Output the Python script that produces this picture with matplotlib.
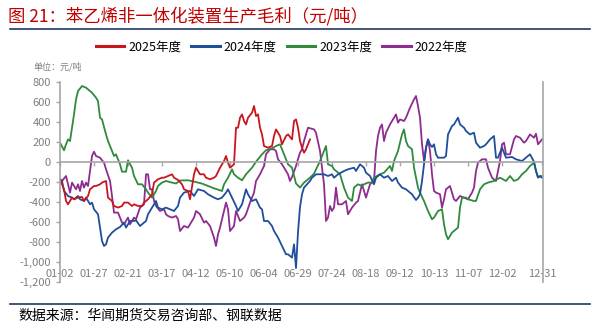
import numpy as np
import matplotlib
matplotlib.use("Agg")
import matplotlib.pyplot as plt
from matplotlib.lines import Line2D
from matplotlib.ticker import FuncFormatter

plt.rcParams['font.family'] = ['Noto Sans CJK SC', 'DejaVu Sans']

# x = trading-day index within the year, y = margin (元/吨)
x_2025 = [0, 2, 3, 4, 6, 7, 9, 11, 12, 14, 15, 17, 18, 20, 21, 23, 24, 26, 27, 29, 31, 32, 34, 36, 37,
          39, 41, 42, 44, 46, 47, 49, 51, 52, 54, 56, 57, 59, 61, 62, 64, 65, 67, 68, 70, 72, 73, 75,
          77, 78, 80, 82, 83, 84, 85, 87, 88, 89, 90, 91, 92, 93, 94, 96, 97, 98, 99, 100, 101, 102,
          104, 106, 107, 108, 110, 111, 113, 114, 116, 117, 118, 119, 120, 121, 122, 123, 124, 125]
y_2025 = [-173, -273, -390, -423, -356, -373, -356, -350, -390, -340, -273, -240, -240, -223, -206,
          -190, -356, -390, -440, -456, -440, -406, -406, -440, -423, -440, -440, -406, -373, -323,
          -206, -173, -157, -157, -140, -123, -157, -180, -223, -273, -290, -373, -123, -57, -123,
          -123, -157, -173, -157, -140, -57, 10, 60, -7, -57, -23, 343, 343, 443, 476, 410, 376, 443,
          493, 560, 460, 476, 343, 276, 160, 143, 160, 260, 326, 260, 177, 260, 276, 226, 410, 426,
          343, 210, 143, 93, 127, 177, 226]

x_2024 = [0, 1, 2, 4, 6, 7, 9, 10, 12, 13, 15, 16, 17, 19, 20, 21, 22, 23, 24, 26, 28, 30, 32, 33, 35,
          37, 38, 40, 41, 43, 44, 46, 48, 49, 51, 53, 55, 57, 59, 60, 62, 65, 67, 69, 72, 74, 77, 79,
          81, 83, 84, 86, 88, 89, 91, 93, 94, 96, 98, 100, 101, 102, 104, 106, 107, 109, 111, 113, 114,
          116, 117, 118, 119, 120, 121, 122, 125, 126, 128, 130, 132, 134, 136, 137, 139, 142, 144,
          147, 148, 150, 152, 153, 155, 157, 158, 160, 162, 164, 166, 168, 169, 171, 173, 176, 178,
          179, 180, 181, 182, 183, 184, 185, 186, 187, 188, 189, 192, 193, 194, 196, 197, 198, 199,
          200, 202, 203, 205, 207, 208, 210, 212, 213, 215, 217, 218, 219, 221, 222, 223, 226, 228,
          231, 233, 235, 237, 238, 239, 240, 241]
y_2024 = [-173, -190, -290, -340, -356, -373, -340, -373, -390, -356, -423, -406, -473, -523, -656,
          -790, -840, -823, -756, -706, -673, -650, -606, -656, -590, -590, -583, -640, -623, -590,
          -523, -456, -390, -456, -473, -456, -473, -490, -440, -356, -306, -290, -340, -273, -290,
          -323, -356, -373, -356, -306, -273, -356, -440, -490, -423, -273, -323, -390, -373, -456,
          -473, -590, -590, -640, -690, -756, -840, -923, -923, -956, -823, -1060, -700, -450, -323,
          -256, -190, -157, -123, -123, -123, -140, -123, -157, -123, -90, -73, -57, -90, -23, -57,
          -107, -140, -223, -157, -123, -157, -140, -190, -157, -206, -256, -273, -323, -380, -356,
          -323, -190, -23, 143, 226, 177, 150, 177, 77, 43, 43, 60, 276, 360, 376, 410, 443, 376,
          343, 310, 276, 293, 193, 143, 160, 177, 226, 260, 43, 43, 143, 93, 43, 50, 27, 10, 43, 77,
          3, -90, -157, -140, -157]

x_2023 = [0, 2, 3, 4, 5, 7, 8, 9, 11, 13, 16, 18, 19, 20, 21, 23, 24, 26, 27, 28, 30, 31, 33, 34, 36,
          37, 39, 41, 43, 44, 46, 48, 49, 51, 53, 56, 58, 60, 64, 67, 71, 74, 77, 81, 82, 84, 86, 87,
          89, 91, 93, 96, 98, 101, 103, 106, 108, 110, 112, 114, 116, 118, 120, 122, 125, 127, 130,
          132, 133, 134, 136, 137, 139, 140, 142, 144, 146, 147, 149, 151, 152, 154, 156, 157, 160,
          162, 165, 166, 167, 169, 171, 172, 173, 174, 176, 177, 179, 180, 182, 184, 186, 187, 189,
          191, 192, 193, 194, 196, 197, 199, 200, 201, 203, 204, 207, 208, 210, 212, 214, 217, 220,
          223, 225, 227, 229, 231, 233, 235, 237, 238, 239, 241]
y_2023 = [193, 117, 177, 226, 210, 476, 626, 709, 760, 743, 693, 643, 610, 443, 426, 276, 210, 110,
          60, 77, -23, -97, -97, 17, -57, -140, -223, -223, -273, -306, -356, -290, -240, -206, -190,
          -206, -215, -185, -183, -196, -216, -240, -263, -290, -223, -157, -73, -123, -157, -183,
          -123, -57, 3, 77, 117, 137, 160, 177, 77, -23, -57, -215, -256, -206, -157, -117, 10, 110,
          160, -23, -40, -73, -107, -123, -256, -356, -390, -256, -223, -240, -223, -206, -206, -157,
          -123, -107, -40, -90, 10, 110, 276, 326, 210, 160, 127, -57, -256, -306, -390, -490, -573,
          -556, -490, -473, -623, -723, -773, -706, -690, -656, -456, -356, -356, -373, -390, -390,
          -273, -223, -206, -190, -157, -190, -140, -190, -173, -123, -90, -40, -7, -90, -150, -140]

x_2022 = [0, 1, 3, 4, 5, 6, 7, 8, 9, 10, 11, 12, 13, 14, 15, 16, 17, 18, 20, 22, 23, 25, 26, 27, 29,
          31, 32, 34, 35, 37, 38, 40, 42, 43, 44, 45, 46, 47, 48, 50, 52, 53, 54, 56, 58, 59, 60, 62,
          64, 67, 68, 70, 72, 73, 75, 77, 78, 79, 80, 83, 84, 85, 87, 88, 90, 92, 93, 95, 97, 98, 100,
          102, 103, 105, 107, 108, 109, 111, 113, 114, 115, 116, 118, 119, 120, 121, 122, 124, 127,
          128, 130, 132, 133, 134, 135, 136, 137, 138, 139, 141, 143, 144, 146, 148, 149, 151, 152,
          153, 155, 157, 158, 159, 160, 161, 162, 163, 165, 167, 168, 169, 170, 172, 173, 175, 177,
          178, 179, 180, 181, 182, 183, 184, 185, 186, 187, 188, 190, 191, 192, 193, 195, 196, 197,
          198, 200, 202, 204, 206, 207, 208, 209, 211, 213, 214, 216, 218, 219, 220, 221, 222, 223,
          225, 227, 228, 230, 232, 233, 235, 237, 238, 239, 241]
y_2022 = [-173, -190, -140, -223, -306, -206, -240, -273, -223, -290, -190, -256, -206, -240, -90, 60,
          103, 60, 43, -7, -73, -190, -340, -506, -506, -606, -623, -556, -623, -556, -573, -456,
          -423, -123, -123, -273, -273, -390, -440, -490, -473, -523, -540, -556, -540, -573, -690,
          -640, -656, -556, -490, -523, -606, -590, -640, -756, -840, -723, -656, -406, -473, -690,
          -640, -490, -590, -556, -523, -406, -306, -190, -123, -40, 77, 127, 127, 110, 27, -23, -90,
          -123, -190, -150, -40, 30, 93, 127, 210, 343, 326, 293, 110, -223, -590, -556, -440, -490,
          -456, -256, -423, -423, -390, -523, -456, -406, -390, -223, -290, -356, -223, -190, 110,
          260, 343, 376, 210, 293, 376, 443, 476, 393, 426, 410, 443, 543, 626, 660, 560, 443, 177,
          10, 143, 226, 110, -123, -290, -306, -323, -456, -373, -273, -240, -306, -373, -390, -340,
          -356, -373, -306, -256, -90, -7, 27, 27, -57, -157, -190, -90, 10, 177, 193, 77, 77, 226,
          260, 243, 193, 210, 276, 243, 283, 177, 226]

series = [
    ("2025年度", x_2025, y_2025, "#C8161D"),
    ("2024年度", x_2024, y_2024, "#1F4E9A"),
    ("2023年度", x_2023, y_2023, "#2F8A3C"),
    ("2022年度", x_2022, y_2022, "#8E2C90"),
]

tick_pos = [0, 17, 34, 51, 68, 85, 102, 119, 136, 153, 170, 187, 204, 221, 241]
tick_lab = ["01-02", "01-27", "02-21", "03-17", "04-12", "05-10", "06-04", "06-29",
            "07-24", "08-18", "09-12", "10-13", "11-07", "12-02", "12-31"]

fig = plt.figure(figsize=(6.02, 3.30), dpi=100)
ax = fig.add_axes([0.0997, 0.1455, 0.8023, 0.606])

handles = []
for name, xs, ys, c in series[::-1]:
    ax.plot(xs, ys, color=c, lw=1.3, label=name)
for name, xs, ys, c in series:
    handles.append(Line2D([], [], color=c, lw=2.2, label=name))

grey = "#A6A6A6"
ax.set_xlim(0, 241.5)
ax.set_ylim(-1200, 800)
ax.set_yticks(np.arange(-1200, 801, 200))
ax.yaxis.set_major_formatter(FuncFormatter(lambda v, p: f"{v:,.0f}"))
ax.set_xticks(tick_pos)
ax.set_xticklabels(tick_lab)

ax.spines["top"].set_visible(False)
ax.spines["bottom"].set_position(("data", 0))
for s in ["left", "right", "bottom"]:
    ax.spines[s].set_color(grey)
    ax.spines[s].set_linewidth(1.2)
ax.tick_params(axis="y", colors=grey, labelcolor="#7F7F7F", labelsize=8, length=3, width=1)
ax.tick_params(axis="x", colors=grey, labelcolor="#7F7F7F", labelsize=8, length=3, width=1,
               pad=74)

fig.legend(handles=handles, loc="center", bbox_to_anchor=(0.468, 0.857), ncol=4, frameon=False,
           fontsize=9, handlelength=2.3, columnspacing=0.8, handletextpad=0.3)

fig.text(0.014, 0.952, "图 21：苯乙烯非一体化装置生产毛利（元/吨）", color="#C00000",
         fontsize=12.5, va="center", ha="left")
fig.text(0.055, 0.797, "单位：元/吨", color="#7F7F7F", fontsize=6.5, va="center")
fig.text(0.03, 0.042, "数据来源：华闻期货交易咨询部、钢联数据", color="#000000",
         fontsize=10, va="center")
fig.add_artist(Line2D([0.017, 0.98], [0.912, 0.912], color="#1F3864", lw=1.2))
fig.add_artist(Line2D([0.017, 0.98], [0.079, 0.079], color="#1F3864", lw=1.2))

fig.savefig("out.png", dpi=100)
